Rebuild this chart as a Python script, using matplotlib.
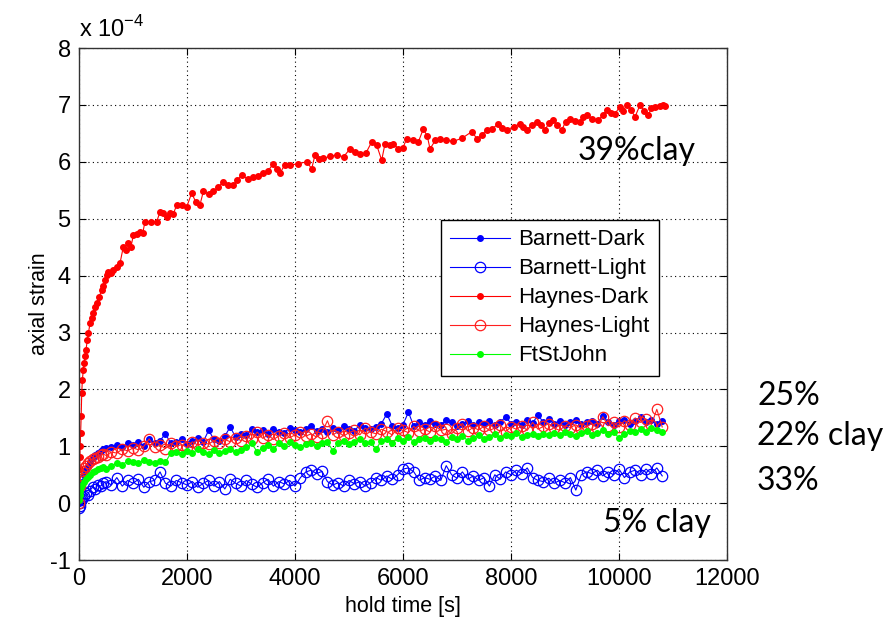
import matplotlib
matplotlib.use("Agg")
import matplotlib.pyplot as plt

# hold time [s] shared by the four low-strain samples
t_band = [0, 10, 20, 40, 60, 90, 120, 160, 200, 250, 300, 350, 400, 450,
          500, 600, 700, 800, 900, 1000, 1100, 1200, 1300, 1400,
          1500, 1600, 1700, 1800, 1900, 2000, 2100, 2200, 2300, 2400,
          2500, 2600, 2700, 2800, 2900, 3000, 3100, 3200, 3300, 3400,
          3500, 3600, 3700, 3800, 3900, 4000, 4100, 4200, 4300, 4400,
          4500, 4600, 4700, 4800, 4900, 5000, 5100, 5200, 5300, 5400,
          5500, 5600, 5700, 5800, 5900, 6000, 6100, 6200, 6300, 6400,
          6500, 6600, 6700, 6800, 6900, 7000, 7100, 7200, 7300, 7400,
          7500, 7600, 7700, 7800, 7900, 8000, 8100, 8200, 8300, 8400,
          8500, 8600, 8700, 8800, 8900, 9000, 9100, 9200, 9300, 9400,
          9500, 9600, 9700, 9800, 9900, 10000, 10100, 10200, 10300, 10400,
          10500, 10600, 10700, 10800]

# axial strain, x 1e-4
barnett_dark = [0.00, 0.10, 0.18, 0.28, 0.38, 0.50, 0.58, 0.66, 0.72, 0.80, 0.85, 0.88, 0.92, 0.95,
                0.97, 0.99, 1.02, 0.98, 1.05, 1.03, 1.08, 1.00, 1.12, 1.06,
                1.10, 1.22, 1.05, 1.08, 1.12, 1.04, 1.10, 1.15, 1.08, 1.28,
                1.12, 1.10, 1.18, 1.34, 1.16, 1.22, 1.20, 1.30, 1.25, 1.28,
                1.22, 1.30, 1.26, 1.24, 1.32, 1.28, 1.25, 1.30, 1.36, 1.27,
                1.30, 1.26, 1.32, 1.28, 1.35, 1.30, 1.27, 1.38, 1.32, 1.30,
                1.34, 1.40, 1.57, 1.36, 1.32, 1.38, 1.60, 1.35, 1.42, 1.38,
                1.44, 1.40, 1.38, 1.46, 1.42, 1.36, 1.40, 1.44, 1.38, 1.42,
                1.40, 1.45, 1.38, 1.42, 1.52, 1.40, 1.43, 1.38, 1.46, 1.41,
                1.55, 1.42, 1.48, 1.40, 1.45, 1.38, 1.43, 1.47, 1.40, 1.42,
                1.45, 1.40, 1.54, 1.42, 1.38, 1.44, 1.47, 1.40, 1.45, 1.52,
                1.42, 1.46, 1.40, 1.44]

barnett_light = [-0.08, -0.05, 0.00, 0.05, 0.08, 0.12, 0.18, 0.15, 0.22, 0.28, 0.25, 0.32, 0.30, 0.35,
                 0.38, 0.32, 0.45, 0.30, 0.40, 0.35, 0.42, 0.28, 0.38, 0.40,
                 0.55, 0.35, 0.30, 0.40, 0.36, 0.32, 0.38, 0.28, 0.35, 0.40,
                 0.30, 0.38, 0.25, 0.42, 0.35, 0.30, 0.40, 0.33, 0.28, 0.36,
                 0.42, 0.30, 0.38, 0.34, 0.40, 0.30, 0.45, 0.55, 0.58, 0.52,
                 0.56, 0.38, 0.32, 0.36, 0.30, 0.40, 0.34, 0.38, 0.30, 0.36,
                 0.45, 0.40, 0.48, 0.42, 0.50, 0.60, 0.62, 0.55, 0.40, 0.45,
                 0.42, 0.48, 0.40, 0.66, 0.50, 0.44, 0.55, 0.42, 0.48, 0.40,
                 0.45, 0.30, 0.50, 0.42, 0.55, 0.50, 0.58, 0.52, 0.62, 0.45,
                 0.40, 0.38, 0.44, 0.35, 0.40, 0.36, 0.45, 0.23, 0.50, 0.55,
                 0.52, 0.58, 0.48, 0.55, 0.50, 0.60, 0.45, 0.55, 0.58, 0.50,
                 0.60, 0.52, 0.62, 0.48]

haynes_light = [0.00, 0.30, 0.42, 0.50, 0.56, 0.62, 0.66, 0.70, 0.74, 0.78, 0.80, 0.82, 0.85, 0.86,
                0.84, 0.90, 0.88, 0.95, 0.92, 0.97, 0.94, 1.00, 1.13, 0.98,
                1.02, 0.96, 1.05, 1.00, 1.03, 0.98, 1.08, 1.02, 1.06, 1.04,
                1.10, 1.05, 1.12, 1.08, 1.15, 1.10, 1.18, 1.12, 1.25, 1.14,
                1.20, 1.12, 1.18, 1.24, 1.15, 1.20, 1.26, 1.18, 1.22, 1.16,
                1.24, 1.45, 1.20, 1.26, 1.18, 1.24, 1.28, 1.20, 1.32, 1.25,
                1.22, 1.30, 1.26, 1.20, 1.32, 1.28, 1.24, 1.35, 1.27, 1.30,
                1.25, 1.36, 1.28, 1.30, 1.22, 1.32, 1.40, 1.27, 1.33, 1.29,
                1.35, 1.28, 1.32, 1.38, 1.26, 1.34, 1.30, 1.36, 1.28, 1.42,
                1.30, 1.35, 1.40, 1.32, 1.28, 1.36, 1.33, 1.38, 1.30, 1.35,
                1.40, 1.32, 1.52, 1.36, 1.42, 1.34, 1.45, 1.38, 1.50, 1.42,
                1.48, 1.38, 1.65, 1.34]

ftstjohn = [0.05, 0.15, 0.22, 0.28, 0.32, 0.38, 0.42, 0.46, 0.50, 0.54, 0.57, 0.60, 0.62, 0.64,
            0.60, 0.66, 0.70, 0.68, 0.74, 0.72, 0.70, 0.76, 0.72, 0.70,
            0.74, 0.72, 0.88, 0.90, 0.86, 0.92, 0.88, 0.95, 0.90, 0.87,
            0.93, 0.88, 0.92, 0.95, 0.90, 0.94, 0.98, 1.05, 0.90, 0.97,
            1.02, 0.95, 1.05, 1.00, 1.08, 1.02, 0.98, 1.04, 1.06, 1.00,
            1.05, 1.08, 0.92, 1.06, 1.10, 1.04, 1.08, 1.12, 1.05, 1.08,
            0.95, 1.10, 1.12, 1.06, 1.14, 1.10, 1.16, 1.08, 1.12, 1.15,
            1.10, 1.15, 1.12, 1.08, 1.16, 1.12, 1.18, 1.10, 1.14, 1.20,
            1.13, 1.17, 1.22, 1.15, 1.20, 1.18, 1.24, 1.16, 1.20, 1.22,
            1.18, 1.22, 1.19, 1.24, 1.20, 1.26, 1.21, 1.18, 1.23, 1.27,
            1.20, 1.24, 1.28, 1.22, 1.26, 1.14, 1.22, 1.27, 1.25, 1.30,
            1.26, 1.32, 1.28, 1.25]

# Haynes-Dark was logged on its own clock
t_haynes_dark = [0, 5, 10, 15, 20, 30, 40, 50, 62, 80,
                 95, 111, 130, 154, 173, 204, 235, 265, 300, 327,
                 370, 420, 450, 481, 510, 543, 590, 630, 700, 759,
                 821, 870, 913, 960, 1006, 1070, 1130, 1180, 1222, 1330,
                 1438, 1500, 1560, 1623, 1690, 1747, 1809, 1900, 1994, 2086,
                 2160, 2241, 2302, 2400, 2487, 2580, 2673, 2760, 2858, 2930,
                 3012, 3120, 3228, 3320, 3413, 3500, 3599, 3660, 3722, 3810,
                 3907, 4060, 4216, 4309, 4370, 4450, 4525, 4650, 4772, 4900,
                 5019, 5110, 5204, 5310, 5420, 5510, 5605, 5667, 5750, 5821,
                 5914, 6000, 6069, 6180, 6284, 6376, 6450, 6500, 6600, 6685,
                 6800, 6932, 7100, 7272, 7377, 7460, 7549, 7650, 7765, 7840,
                 7920, 8050, 8167, 8230, 8290, 8380, 8475, 8550, 8630, 8700,
                 8784, 8860, 8938, 9010, 9093, 9180, 9278, 9340, 9401, 9500,
                 9617, 9700, 9772, 9850, 9926, 10019, 10080, 10142, 10220, 10296,
                 10389, 10460, 10543, 10600, 10667, 10750, 10821, 10850]

haynes_dark = [0.05, 0.30, 0.60, 0.82, 1.00, 1.24, 1.53, 1.94, 2.17, 2.35,
               2.47, 2.58, 2.70, 2.87, 2.99, 3.16, 3.25, 3.34, 3.44, 3.52,
               3.62, 3.75, 3.82, 3.92, 4.02, 4.07, 4.05, 4.10, 4.15, 4.22,
               4.51, 4.45, 4.57, 4.50, 4.71, 4.74, 4.76, 4.75, 4.95, 4.94,
               4.95, 5.12, 5.10, 5.03, 5.10, 5.09, 5.24, 5.25, 5.21, 5.45,
               5.30, 5.25, 5.48, 5.44, 5.48, 5.56, 5.65, 5.60, 5.59, 5.68,
               5.77, 5.70, 5.74, 5.76, 5.80, 5.84, 5.97, 5.88, 5.80, 5.95,
               5.94, 5.97, 6.00, 5.88, 6.12, 6.05, 6.06, 6.10, 6.12, 6.09,
               6.23, 6.18, 6.14, 6.15, 6.35, 6.30, 6.03, 6.32, 6.30, 6.32,
               6.23, 6.25, 6.41, 6.38, 6.35, 6.58, 6.45, 6.23, 6.38, 6.40,
               6.38, 6.36, 6.42, 6.53, 6.40, 6.48, 6.56, 6.58, 6.67, 6.60,
               6.56, 6.62, 6.67, 6.62, 6.56, 6.64, 6.70, 6.65, 6.56, 6.68,
               6.73, 6.64, 6.56, 6.70, 6.76, 6.72, 6.70, 6.78, 6.82, 6.76,
               6.73, 6.82, 6.91, 6.86, 6.85, 6.97, 6.90, 7.00, 6.92, 6.79,
               7.00, 6.90, 6.82, 6.95, 6.97, 6.99, 7.00, 6.98]

x_ticks = [0, 2000, 4000, 6000, 8000, 10000, 12000]
y_ticks = [-1, 0, 1, 2, 3, 4, 5, 6, 7, 8]

plt.rcParams['font.family'] = ['Liberation Sans', 'DejaVu Sans']
plt.rcParams['axes.unicode_minus'] = False

fig = plt.figure(figsize=(8.88, 6.23), dpi=100)
ax = fig.add_axes([0.089, 0.101, 0.7297, 0.8218])

dot = dict(marker='.', markersize=8, linewidth=0.8)
ring = dict(marker='o', markersize=7.5, markerfacecolor='none', markeredgewidth=0.9, linewidth=0.8)

ax.plot(t_band, barnett_dark, color='#0000ff', label='Barnett-Dark', **dot)
ax.plot(t_band, barnett_light, color='#0000ff', label='Barnett-Light', **ring)
ax.plot(t_haynes_dark, haynes_dark, color='#ff0000', label='Haynes-Dark', **dot)
ax.plot(t_band, haynes_light, color='#ff2020', label='Haynes-Light', **ring)
ax.plot(t_band, ftstjohn, color='#00ff00', label='FtStJohn', **dot)

ax.set_xlim(0, 12000)
ax.set_ylim(-1, 8)
ax.set_xticks(x_ticks)
ax.set_yticks(y_ticks)
ax.grid(True, color='black', linestyle=(0, (1, 3)), linewidth=0.8)
ax.tick_params(direction='in', top=True, right=True, length=5, labelsize=17, pad=6)
for s in ax.spines.values():
    s.set_color('#333333')
    s.set_linewidth(1.0)

ax.set_xlabel('hold time [s]', fontsize=15.5, labelpad=4)
ax.set_ylabel('axial strain', fontsize=15.5, labelpad=0)
ax.text(0.0, 1.012, r'x 10$^{\mathregular{-4}}$', transform=ax.transAxes, fontsize=17,
        ha='left', va='bottom')

leg = ax.legend(loc='upper left', bbox_to_anchor=(0.5586, 0.664), borderaxespad=0,
                fontsize=16, fancybox=False, framealpha=1, edgecolor='black',
                handlelength=2.7, handletextpad=0.35, labelspacing=0.36, borderpad=0.42)
leg.get_frame().set_linewidth(1.0)

# clay content notes (slide text)
note = dict(family=['Lato', 'DejaVu Sans'], fontsize=23, color='black')
ax.text(9240, 6.03, '39%clay', ha='left', va='baseline', **note)
ax.text(9700, -0.51, '5% clay', ha='left', va='baseline', **note)
fig.text(0.8525, 0.350, '25%', ha='left', va='baseline', **note)
fig.text(0.8525, 0.2857, '22% clay', ha='left', va='baseline', **note)
fig.text(0.8525, 0.2135, '33%', ha='left', va='baseline', **note)

fig.savefig('out.png', dpi=100)
